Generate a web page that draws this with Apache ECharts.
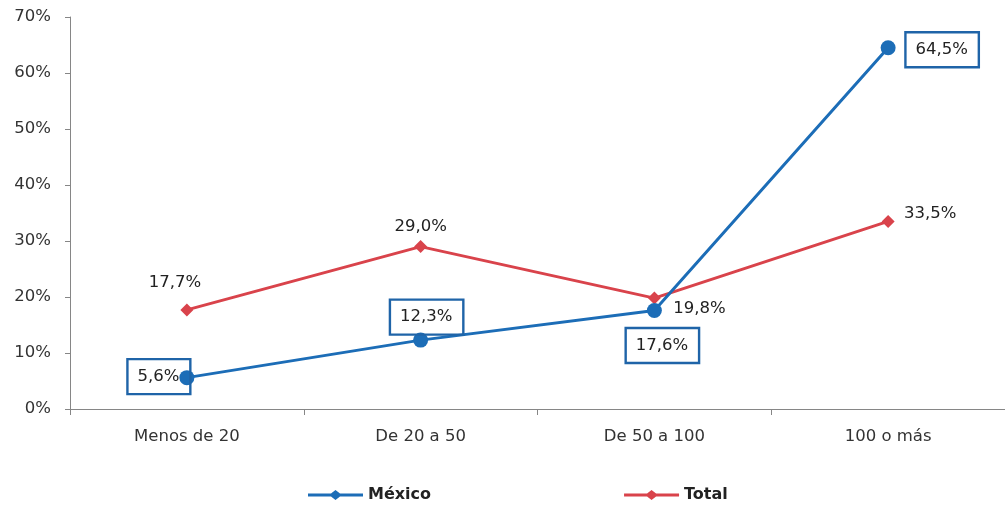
<!DOCTYPE html>
<html><head><meta charset="utf-8">
<script src="https://cdn.jsdelivr.net/npm/echarts@6/dist/echarts.min.js"></script>
<style>html,body{margin:0;padding:0;background:#fff}#c{width:1005px;height:508px}</style>
</head><body><div id="c"></div>
<script>
const categories = ['Menos de 20', 'De 20 a 50', 'De 50 a 100', '100 o más'];
const mexico = [5.6, 12.3, 17.6, 64.5];
const total = [17.7, 29.0, 19.8, 33.5];
const yTicks = [0, 10, 20, 30, 40, 50, 60, 70];

const mexOffsets = [[-28, -1], [6, -23], [8, 35], [54, 2]];
const totOffsets = [[-12, -27], [0, -20], [45, 11], [42, -8]];
const FONT = '"DejaVu Sans", sans-serif';
const BLUE = '#1c6db7', RED = '#d9434b', BOX = '#1f64a8';
const fmt = v => v.toFixed(1).replace('.', ',') + '%';
const legendIcon = 'path://M0,3.5L23,3.5L27.5,0L32,3.5L55,3.5L55,6.5L32,6.5L27.5,10L23,6.5L0,6.5Z';

const chart = echarts.init(document.getElementById('c'), null, {renderer: 'canvas'});
chart.setOption({
  animation: false,
  backgroundColor: '#fff',
  grid: {left: 70, top: 17, width: 940, height: 392, containLabel: false},
  xAxis: {
    type: 'category', data: categories, boundaryGap: true,
    axisLine: {lineStyle: {color: '#868686', width: 1}},
    axisTick: {show: true, length: 6, lineStyle: {color: '#868686'}},
    axisLabel: {color: '#333', fontFamily: FONT, fontSize: 16.5, margin: 19}
  },
  yAxis: {
    type: 'value', min: yTicks[0], max: yTicks[yTicks.length - 1], interval: 10,
    axisLine: {show: true, lineStyle: {color: '#868686', width: 1}},
    axisTick: {show: true, length: 5, lineStyle: {color: '#868686'}},
    splitLine: {show: false},
    axisLabel: {color: '#333', fontFamily: FONT, fontSize: 16.5, margin: 19, formatter: v => v + '%'}
  },
  legend: {
    left: 303, top: 482, itemGap: 193, itemWidth: 55, itemHeight: 10,
    textStyle: {fontFamily: FONT, fontSize: 16, fontWeight: 'bold', color: '#222'},
    data: [
      {name: 'México', icon: legendIcon},
      {name: 'Total', icon: legendIcon}
    ]
  },
  series: [
    {
      name: 'Total', type: 'line', z: 2,
      symbol: 'diamond', symbolSize: 13,
      itemStyle: {color: RED}, lineStyle: {color: RED, width: 3},
      data: total.map((v, i) => ({
        value: v,
        label: {show: true, position: 'inside', offset: totOffsets[i], formatter: fmt(v),
          color: '#222', fontFamily: FONT, fontSize: 16.5}
      }))
    },
    {
      name: 'México', type: 'line', z: 3,
      symbol: 'circle', symbolSize: 15,
      itemStyle: {color: BLUE}, lineStyle: {color: BLUE, width: 3},
      data: mexico.map((v, i) => ({
        value: v,
        label: {show: true, position: 'inside', offset: mexOffsets[i], formatter: fmt(v),
          color: '#222', fontFamily: FONT, fontSize: 16.5,
          backgroundColor: 'rgba(255,255,255,0)', borderColor: BOX, borderWidth: 1.2,
          padding: [9, 11, 9, 10]}
      }))
    }
  ]
});
</script></body></html>
